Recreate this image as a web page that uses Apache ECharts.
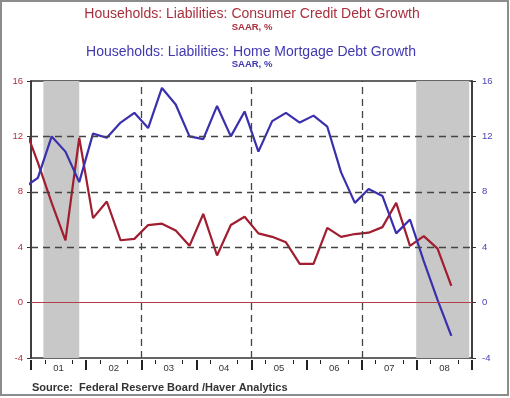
<!DOCTYPE html>
<html>
<head>
<meta charset="utf-8">
<script src="https://cdn.jsdelivr.net/npm/echarts@6/dist/echarts.min.js"></script>
<style>
  html, body { margin: 0; padding: 0; background: #fff; }
  #chart { width: 510px; height: 398px; }
</style>
</head>
<body>
<div id="chart"></div>
<script>
// quarterly data, 2000Q4 .. 2008Q3
let quarters = [
  "2000Q4",
  "2001Q1", "2001Q2", "2001Q3", "2001Q4",
  "2002Q1", "2002Q2", "2002Q3", "2002Q4",
  "2003Q1", "2003Q2", "2003Q3", "2003Q4",
  "2004Q1", "2004Q2", "2004Q3", "2004Q4",
  "2005Q1", "2005Q2", "2005Q3", "2005Q4",
  "2006Q1", "2006Q2", "2006Q3", "2006Q4",
  "2007Q1", "2007Q2", "2007Q3", "2007Q4",
  "2008Q1", "2008Q2", "2008Q3"
];
let consumerCredit = [
  12.8,
  10.1, 7.2, 4.5, 11.9,
  6.1, 7.3, 4.5, 4.6,
  5.6, 5.7, 5.2, 4.1,
  6.4, 3.4, 5.6, 6.2,
  5.0, 4.75, 4.35, 2.8,
  2.8, 5.4, 4.75, 4.95,
  5.05, 5.45, 7.2, 4.1,
  4.8, 3.9, 1.2
];
let homeMortgage = [
  8.3,
  9.0, 12.0, 10.9, 8.7,
  12.2, 11.9, 13.0, 13.7,
  12.6, 15.5, 14.3, 12.0,
  11.8, 14.2, 12.0, 13.8,
  10.9, 13.1, 13.7, 13.0,
  13.5, 12.7, 9.4, 7.2,
  8.2, 7.7, 5.0, 6.0,
  3.0, 0.2, -2.4
];
let years = ["01", "02", "03", "04", "05", "06", "07", "08"];
let yTicks = [-4, 0, 4, 8, 12, 16];
// recessions, in quarters counted from 2001Q1
let recessions = [[0.9, 3.5], [27.95, 31.8]];

let red = "#a11d30";
let blue = "#3a30ad";

// quarter label -> position on the quarterly value axis (mid-quarter)
function qPos(q) {
  let y = parseInt(q.slice(0, 4), 10);
  let n = parseInt(q.slice(5), 10);
  return (y - 2001) * 4 + (n - 1) + 0.5;
}
let creditData = quarters.map((q, i) => [qPos(q), consumerCredit[i]]);
let mortgageData = quarters.map((q, i) => [qPos(q), homeMortgage[i]]);

let quarterTicks = [];
years.forEach(y => { for (let k = 1; k <= 4; k++) quarterTicks.push(y + "Q" + k); });

let myChart = echarts.init(document.getElementById("chart"));
let yAxisBase = {
  type: "value",
  min: yTicks[0],
  max: yTicks[yTicks.length - 1],
  interval: 4,
  axisLine: { show: true, lineStyle: { color: "#333", width: 1.5 } },
  axisTick: { show: true, length: 4, lineStyle: { color: "#333", width: 1 } },
  splitLine: { show: false }
};
let dash = { color: "#444", type: [7, 5], width: 1.3 };
let option = {
  animation: false,
  backgroundColor: "#fff",
  grid: {
    left: 31, right: 38, top: 81, bottom: 40,
    show: true, borderColor: "#333", borderWidth: 1.5
  },
  graphic: [
    { type: "rect", silent: true, shape: { x: 1, y: 1, width: 507, height: 394 },
      style: { fill: null, stroke: "#8c8c8c", lineWidth: 2 } },
    { type: "text", x: 252, y: 14, style: { text: "Households: Liabilities: Consumer Credit Debt Growth",
      fill: "#a8303e", font: "14px 'Liberation Sans', Arial", textAlign: "center", textVerticalAlign: "middle" } },
    { type: "text", x: 252, y: 27, style: { text: "SAAR, %",
      fill: "#a8303e", font: "bold 9.5px 'Liberation Sans', Arial", textAlign: "center", textVerticalAlign: "middle" } },
    { type: "text", x: 251, y: 52, style: { text: "Households: Liabilities: Home Mortgage Debt Growth",
      fill: "#4038b0", font: "14px 'Liberation Sans', Arial", textAlign: "center", textVerticalAlign: "middle" } },
    { type: "text", x: 252, y: 64, style: { text: "SAAR, %",
      fill: "#4038b0", font: "bold 9.5px 'Liberation Sans', Arial", textAlign: "center", textVerticalAlign: "middle" } },
    { type: "text", x: 32, y: 388, style: { text: "Source:  Federal Reserve Board /Haver Analytics",
      fill: "#333", font: "bold 11px 'Liberation Sans', Arial", textVerticalAlign: "middle" } }
  ],
  xAxis: [
    {
      type: "value", min: 0, max: 32,
      axisLine: { show: false, onZero: false }, axisTick: { show: false },
      axisLabel: { show: false }, splitLine: { show: false }
    },
    {
      type: "category", data: years, boundaryGap: true, position: "bottom", offset: 2,
      axisLine: { show: false, onZero: false },
      axisTick: { show: true, length: 10, lineStyle: { color: "#222", width: 2 } },
      axisLabel: { color: "#333", fontSize: 9.5, margin: 3, fontFamily: "'Liberation Sans', Arial" },
      splitLine: { show: false }
    },
    {
      type: "category", data: quarterTicks, boundaryGap: true, position: "bottom", offset: 2,
      axisLine: { show: false, onZero: false },
      axisTick: { show: true, length: 4, interval: (i) => i % 2 === 1, lineStyle: { color: "#222", width: 1 } },
      axisLabel: { show: false },
      splitLine: { show: false }
    }
  ],
  yAxis: [
    Object.assign({}, yAxisBase, {
      position: "left",
      axisLabel: { color: "#b0303c", fontSize: 9.5, margin: 8, fontFamily: "'Liberation Sans', Arial" }
    }),
    Object.assign({}, yAxisBase, {
      position: "right",
      axisLabel: { color: "#4a42b8", fontSize: 9.5, margin: 10, fontFamily: "'Liberation Sans', Arial" }
    })
  ],
  series: [
    {
      name: "Consumer Credit",
      type: "line",
      xAxisIndex: 0, yAxisIndex: 0,
      data: creditData,
      symbol: "none",
      clip: true,
      lineStyle: { color: red, width: 2.2 },
      z: 3,
      markArea: {
        silent: true,
        itemStyle: { color: "#c8c8c8", opacity: 1 },
        data: recessions.map(r => [{ xAxis: r[0] }, { xAxis: r[1] }])
      },
      markLine: {
        silent: true,
        symbol: "none",
        label: { show: false },
        data: [
          { yAxis: 4, lineStyle: dash },
          { yAxis: 8, lineStyle: dash },
          { yAxis: 12, lineStyle: dash },
          { xAxis: 8, lineStyle: dash },
          { xAxis: 16, lineStyle: dash },
          { xAxis: 24, lineStyle: dash },
          { yAxis: 0, lineStyle: { color: "#b2404c", type: "solid", width: 1 } }
        ]
      }
    },
    {
      name: "Home Mortgage",
      type: "line",
      xAxisIndex: 0, yAxisIndex: 1,
      data: mortgageData,
      symbol: "none",
      clip: true,
      lineStyle: { color: blue, width: 2.2 },
      z: 4
    }
  ]
};
myChart.setOption(option);
</script>
</body>
</html>
